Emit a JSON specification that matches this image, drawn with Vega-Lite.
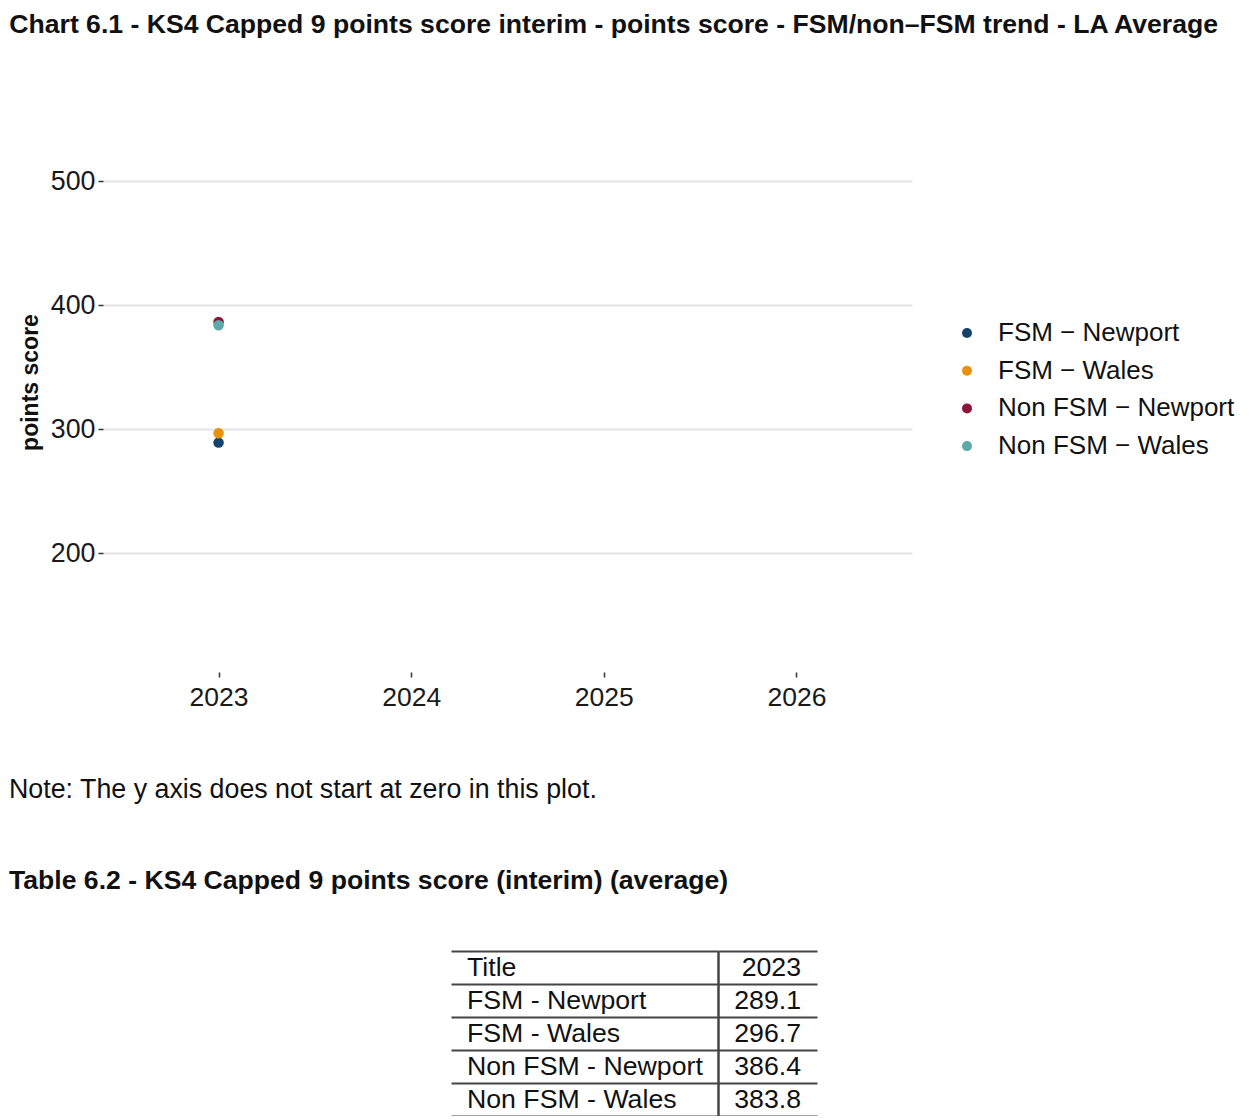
{
  "$schema": "https://vega.github.io/schema/vega-lite/v6.json",
  "padding": {"left": 9, "top": 12, "right": 0, "bottom": 0},
  "background": "white",
  "spacing": 65,
  "config": {
    "font": "Liberation Sans",
    "view": {"stroke": null},
    "axis": {"labelFont": "Liberation Sans", "titleFont": "Liberation Sans"},
    "legend": {"labelFont": "Liberation Sans"}
  },
  "datasets": {
    "scores": [
      {"group": "FSM - Newport", "year": 2023, "score": 289.1},
      {"group": "FSM - Wales", "year": 2023, "score": 296.7},
      {"group": "Non FSM - Newport", "year": 2023, "score": 386.4},
      {"group": "Non FSM - Wales", "year": 2023, "score": 383.8}
    ]
  },
  "vconcat": [
    {
      "title": {
        "text": "Chart 6.1 - KS4 Capped 9 points score interim - points score - FSM/non\u2013FSM trend - LA Average",
        "anchor": "start",
        "dx": -10,
        "font": "Liberation Sans",
        "fontSize": 26.6,
        "fontWeight": "bold",
        "color": "#111111",
        "offset": 53
      },
      "width": 809,
      "height": 580,
      "data": {"name": "scores"},
      "mark": {"type": "point", "filled": true, "opacity": 1, "size": 110},
      "encoding": {
        "x": {
          "field": "year",
          "type": "quantitative",
          "scale": {"domain": [2022.4, 2026.6], "nice": false, "zero": false},
          "axis": {
            "values": [2023, 2024, 2025, 2026],
            "format": "d",
            "title": null,
            "grid": false,
            "domain": false,
            "ticks": true,
            "tickSize": 5,
            "tickWidth": 1.5,
            "tickColor": "#333333",
            "labelFontSize": 26.5,
            "labelColor": "#1a1a1a",
            "labelPadding": 7,
            "labelFlush": false
          }
        },
        "y": {
          "field": "score",
          "type": "quantitative",
          "scale": {"domain": [104, 572], "nice": false, "zero": false},
          "axis": {
            "values": [200, 300, 400, 500],
            "title": "points score",
            "titleFontSize": 23,
            "titleFontWeight": "bold",
            "titleColor": "#111111",
            "titlePadding": 8,
            "grid": true,
            "gridColor": "#e3e3e3",
            "gridWidth": 2,
            "domain": false,
            "ticks": true,
            "tickSize": 5,
            "tickWidth": 1.5,
            "tickColor": "#333333",
            "labelFontSize": 26.8,
            "labelColor": "#1a1a1a",
            "labelPadding": 3
          }
        },
        "color": {
          "field": "group",
          "type": "nominal",
          "scale": {
            "domain": ["FSM - Newport", "FSM - Wales", "Non FSM - Newport", "Non FSM - Wales"],
            "range": ["#12436d", "#e6920c", "#8e1537", "#5ba9a9"]
          },
          "legend": {
            "title": null,
            "orient": "none",
            "legendX": 851,
            "legendY": 228,
            "symbolType": "circle",
            "symbolSize": 100,
            "labelFontSize": 26,
            "labelColor": "#111111",
            "labelOffset": 18,
            "labelLimit": 400,
            "rowPadding": 11.7,
            "labelExpr": "replace(datum.label, ' - ', ' \u2212 ')"
          }
        }
      }
    },
    {
      "title": {
        "text": "Note: The y axis does not start at zero in this plot.",
        "subtitle": "Table 6.2 - KS4 Capped 9 points score (interim) (average)",
        "anchor": "start",
        "dx": -94,
        "font": "Liberation Sans",
        "fontSize": 26.8,
        "fontWeight": "normal",
        "color": "#111111",
        "subtitleFont": "Liberation Sans",
        "subtitleFontSize": 26.6,
        "subtitleFontWeight": "bold",
        "subtitleColor": "#111111",
        "subtitlePadding": 65,
        "offset": 56
      },
      "spacing": 0,
      "hconcat": [
        {
          "width": 348,
          "height": 165,
          "data": {"name": "scores"},
          "transform": [{"filter": "false"}],
          "mark": {"type": "text"},
          "encoding": {"text": {"field": "group", "type": "nominal"}}
        },
        {
          "width": 267,
          "height": 165,
          "data": {"name": "scores"},
          "layer": [
            {
              "mark": {"type": "text", "align": "left", "baseline": "middle", "fontSize": 26.7, "color": "#111111", "dx": -117.5},
              "encoding": {
                "y": {
                  "field": "group",
                  "type": "nominal",
                  "scale": {"domain": ["Title", "FSM - Newport", "FSM - Wales", "Non FSM - Newport", "Non FSM - Wales"], "paddingInner": 0, "paddingOuter": 0},
                  "axis": {"title": null, "labels": false, "ticks": false, "domain": false, "grid": true, "tickBand": "extent", "gridColor": "#444444", "gridWidth": 2}
                },
                "text": {"field": "group", "type": "nominal"}
              }
            },
            {
              "transform": [{"aggregate": [{"op": "count", "as": "n"}]}],
              "mark": {"type": "text", "align": "left", "baseline": "middle", "fontSize": 26.7, "color": "#111111", "dx": -117.5},
              "encoding": {
                "y": {"datum": "Title", "type": "nominal"},
                "text": {"value": "Title"}
              }
            }
          ]
        },
        {
          "width": 99,
          "height": 165,
          "data": {"name": "scores"},
          "layer": [
            {
              "mark": {"type": "text", "align": "right", "baseline": "middle", "fontSize": 26.7, "color": "#111111", "dx": 33.5},
              "encoding": {
                "y": {
                  "field": "group",
                  "type": "nominal",
                  "scale": {"domain": ["Title", "FSM - Newport", "FSM - Wales", "Non FSM - Newport", "Non FSM - Wales"], "paddingInner": 0, "paddingOuter": 0},
                  "axis": {"title": null, "labels": false, "ticks": false, "domain": true, "domainColor": "#444444", "domainWidth": 2.5, "grid": true, "tickBand": "extent", "gridColor": "#444444", "gridWidth": 2}
                },
                "text": {"field": "score", "type": "quantitative", "format": ".1f"}
              }
            },
            {
              "transform": [{"aggregate": [{"op": "max", "field": "year", "as": "year"}]}],
              "mark": {"type": "text", "align": "right", "baseline": "middle", "fontSize": 26.7, "color": "#111111", "dx": 33.5},
              "encoding": {
                "y": {"datum": "Title", "type": "nominal"},
                "text": {"field": "year", "type": "quantitative", "format": "d"}
              }
            }
          ]
        }
      ]
    }
  ]
}
